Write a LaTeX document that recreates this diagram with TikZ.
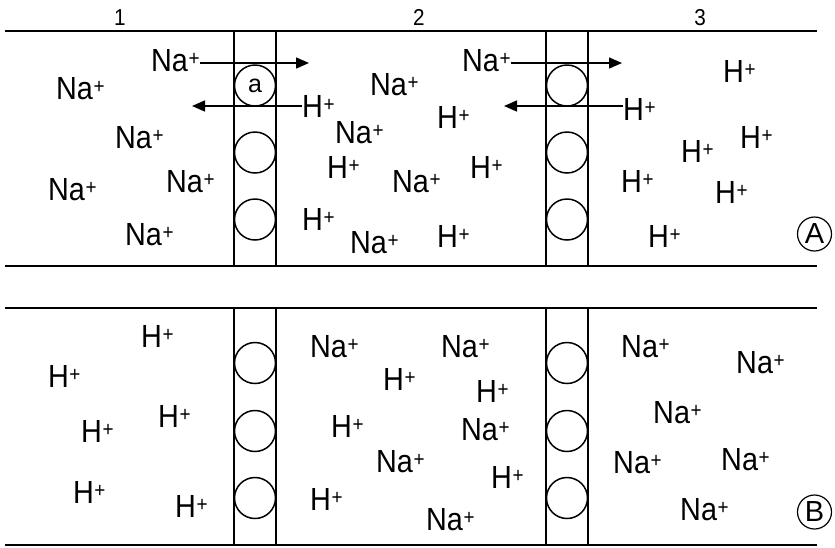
\documentclass[tikz,border=0pt]{standalone}
\usepackage{fontspec}
\setmainfont{Liberation Sans}
\newfontfamily\ionfont[FakeStretch=0.9]{Liberation Sans}
\usetikzlibrary{arrows.meta}
% an ion symbol with its charge
\newcommand\ion[1]{{\ionfont\fontsize{32}{32}\selectfont #1\kern0.5pt\raisebox{6pt}{\fontsize{21}{21}\selectfont +}}}
\begin{document}
\begin{tikzpicture}[x=1pt,y=-1pt,
  ionlbl/.style={anchor=base west, inner sep=0pt},
  bar/.style={line width=2pt},
  wall/.style={line width=1.2pt},
  pore/.style={circle, draw, line width=1.5pt, minimum size=41pt, inner sep=0pt},
  flux/.style={line width=1.5pt, -{Triangle[length=13pt,width=11pt]}},
  zone/.style={inner sep=0pt, font=\ionfont\fontsize{23}{23}\selectfont},
  tag/.style={circle, draw, line width=1.2pt, minimum size=34pt, inner sep=0pt, font=\fontsize{29}{29}\selectfont}]
\useasboundingbox (0,0) rectangle (835,547);

% compartment numbers
\node[zone, anchor=base] (z1) at (120,25) {1};
\node[zone, anchor=base] (z2) at (419,25) {2};
\node[zone, anchor=base] (z3) at (700,25) {3};

% ---- panel A ----
\draw[bar] (5,31) -- (817,31);
\draw[bar] (5,266) -- (817,266);
\draw[wall] (234,31) -- (234,266);
\draw[wall] (276,31) -- (276,266);
\draw[wall] (546,31) -- (546,266);
\draw[wall] (588,31) -- (588,266);
\node[pore, font=\fontsize{25}{25}\selectfont] (pa1) at (255,85.5) {a};
\node[pore] (pa2) at (255,152.5) {};
\node[pore] (pa3) at (255,219.5) {};
\node[pore] (pa4) at (567,85.5) {};
\node[pore] (pa5) at (567,152.5) {};
\node[pore] (pa6) at (567,219.5) {};

% compartment 1
\node[ionlbl] (a1) at (151,71) {\ion{Na}};
\node[ionlbl] (a2) at (56,99) {\ion{Na}};
\node[ionlbl] (a3) at (115,148) {\ion{Na}};
\node[ionlbl] (a4) at (48,200) {\ion{Na}};
\node[ionlbl] (a5) at (166,192) {\ion{Na}};
\node[ionlbl] (a6) at (125,245) {\ion{Na}};
% compartment 2
\node[ionlbl] (a7) at (302,117) {\ion{H}};
\node[ionlbl] (a8) at (370,95) {\ion{Na}};
\node[ionlbl] (a9) at (335,143) {\ion{Na}};
\node[ionlbl] (a10) at (327,178) {\ion{H}};
\node[ionlbl] (a11) at (392,192) {\ion{Na}};
\node[ionlbl] (a12) at (302,230) {\ion{H}};
\node[ionlbl] (a13) at (350,253) {\ion{Na}};
\node[ionlbl] (a14) at (437,128) {\ion{H}};
\node[ionlbl] (a15) at (470,178) {\ion{H}};
\node[ionlbl] (a16) at (437,247) {\ion{H}};
\node[ionlbl] (a17) at (462,71) {\ion{Na}};
% compartment 3
\node[ionlbl] (a18) at (623,120) {\ion{H}};
\node[ionlbl] (a19) at (723,82) {\ion{H}};
\node[ionlbl] (a20) at (681,162) {\ion{H}};
\node[ionlbl] (a21) at (740,148) {\ion{H}};
\node[ionlbl] (a22) at (621,192) {\ion{H}};
\node[ionlbl] (a23) at (715,203) {\ion{H}};
\node[ionlbl] (a24) at (648,247) {\ion{H}};

% exchange fluxes through the upper pores
\coordinate (t1) at (309,63);
\coordinate (t2) at (192,106);
\coordinate (t3) at (622,63);
\coordinate (t4) at (504,106);
\draw[flux] (a1.east |- t1) -- (t1);
\draw[flux] (a7.west |- t2) -- (t2);
\draw[flux] (a17.east |- t3) -- (t3);
\draw[flux] (a18.west |- t4) -- (t4);

\node[tag] (tagA) at (814.5,234) {A};

% ---- panel B ----
\draw[bar] (5,308) -- (817,308);
\draw[bar] (5,545) -- (817,545);
\draw[wall] (234,308) -- (234,545);
\draw[wall] (276,308) -- (276,545);
\draw[wall] (546,308) -- (546,545);
\draw[wall] (588,308) -- (588,545);
\node[pore] (pb1) at (255,363) {};
\node[pore] (pb2) at (255,431) {};
\node[pore] (pb3) at (255,498) {};
\node[pore] (pb4) at (567,363) {};
\node[pore] (pb5) at (567,431) {};
\node[pore] (pb6) at (567,498) {};

% compartment 1
\node[ionlbl] (b1) at (141,347) {\ion{H}};
\node[ionlbl] (b2) at (48,387) {\ion{H}};
\node[ionlbl] (b3) at (158,427) {\ion{H}};
\node[ionlbl] (b4) at (81,442) {\ion{H}};
\node[ionlbl] (b5) at (73,503) {\ion{H}};
\node[ionlbl] (b6) at (175,517) {\ion{H}};
% compartment 2
\node[ionlbl] (b7) at (310,357) {\ion{Na}};
\node[ionlbl] (b8) at (383,390) {\ion{H}};
\node[ionlbl] (b9) at (331,437) {\ion{H}};
\node[ionlbl] (b10) at (376,472) {\ion{Na}};
\node[ionlbl] (b11) at (310,510) {\ion{H}};
\node[ionlbl] (b12) at (441,357) {\ion{Na}};
\node[ionlbl] (b13) at (476,402) {\ion{H}};
\node[ionlbl] (b14) at (461,440) {\ion{Na}};
\node[ionlbl] (b15) at (491,488) {\ion{H}};
\node[ionlbl] (b16) at (426,530) {\ion{Na}};
% compartment 3
\node[ionlbl] (b17) at (621,357) {\ion{Na}};
\node[ionlbl] (b18) at (736,373) {\ion{Na}};
\node[ionlbl] (b19) at (653,423) {\ion{Na}};
\node[ionlbl] (b20) at (613,473) {\ion{Na}};
\node[ionlbl] (b21) at (721,470) {\ion{Na}};
\node[ionlbl] (b22) at (680,520) {\ion{Na}};

\node[tag] (tagB) at (814.5,512) {B};
\end{tikzpicture}
\end{document}
